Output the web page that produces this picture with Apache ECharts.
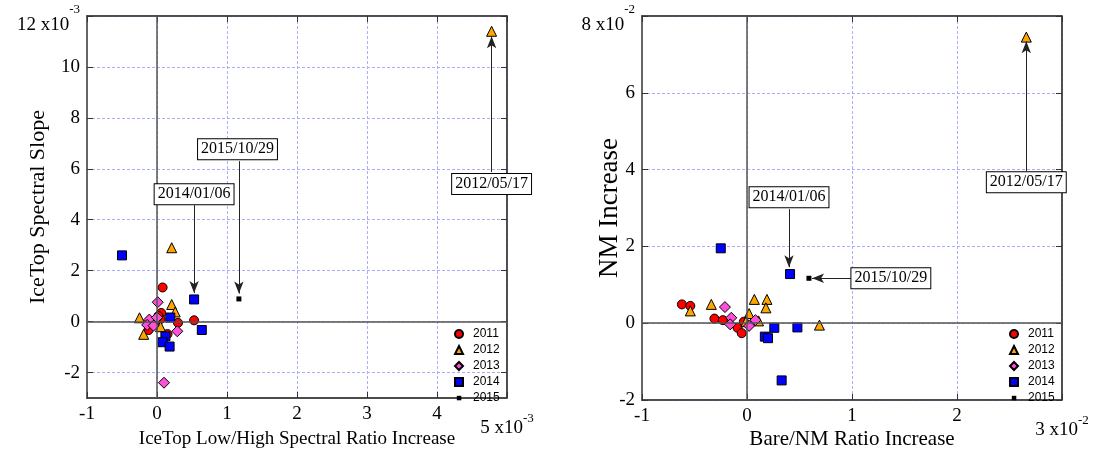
<!DOCTYPE html>
<html>
<head>
<meta charset="utf-8">
<script src="https://cdn.jsdelivr.net/npm/echarts@6/dist/echarts.min.js"></script>
<style>
html, body { margin: 0; padding: 0; background: #fff; }
#chart { width: 1095px; height: 455px; }
</style>
</head>
<body>
<div id="chart"></div>
<script>
// legend / series names
var years = ['2011', '2012', '2013', '2014', '2015'];

// left panel: IceTop low/high spectral ratio increase (x1e-3) vs spectral slope (x1e-3)
var itPts2011 = [[0.08, 1.34], [0.06, 0.34], [0.05, 0.10], [0.30, -0.05], [0.53, 0.05], [-0.12, -0.33], [0.15, -0.49], [0.02, 0.22], [-0.03, 0.0]];
var itPts2012 = [[0.21, 2.90], [0.21, 0.67], [0.26, 0.38], [-0.25, 0.15], [0.05, -0.20], [-0.19, -0.50], [4.78, 11.4]];
var itPts2013 = [[0.01, 0.76], [-0.11, 0.08], [0.0, 0.16], [-0.14, -0.13], [-0.05, -0.16], [0.29, -0.38], [0.10, -2.40]];
var itPts2014 = [[-0.50, 2.60], [0.53, 0.87], [0.19, 0.16], [0.64, -0.33], [0.12, -0.58], [0.08, -0.81], [0.18, -0.98]];
var itPts2015 = [[1.17, 0.89]];

// right panel: Bare/NM ratio increase (x1e-2) vs NM increase (x1e-2)
var nmPts2011 = [[-0.62, 0.49], [-0.54, 0.45], [-0.31, 0.12], [-0.23, 0.08], [-0.09, -0.12], [-0.05, -0.26], [-0.03, 0.04]];
var nmPts2012 = [[-0.54, 0.32], [-0.34, 0.49], [0.07, 0.62], [0.19, 0.62], [0.18, 0.40], [0.02, 0.25], [0.11, 0.06], [0.69, -0.05], [-0.01, 0.04], [2.66, 7.45]];
var nmPts2013 = [[-0.21, 0.42], [-0.15, 0.14], [-0.16, -0.03], [0.02, -0.07], [0.08, 0.08]];
var nmPts2014 = [[-0.25, 1.95], [0.41, 1.28], [0.26, -0.12], [0.48, -0.11], [0.17, -0.35], [0.20, -0.39], [0.33, -1.49]];
var nmPts2015 = [[0.59, 1.17]];

// tick values
var itXTicks = [-1, 0, 1, 2, 3, 4, 5];
var itYTicks = [-2, 0, 2, 4, 6, 8, 10, 12];
var nmXTicks = [-1, 0, 1, 2, 3];
var nmYTicks = [-2, 0, 2, 4, 6, 8];

// annotations: text, label centre, arrow start, arrow tip
var itNotes = [
    {text: '2014/01/06', at: [0.53, 5.0], from: [0.53, 4.57], to: [0.53, 1.12]},
    {text: '2015/10/29', at: [1.15, 6.77], from: [1.17, 6.30], to: [1.17, 1.10]},
    {text: '2012/05/17', at: [4.78, 5.40], from: [4.78, 5.87], to: [4.78, 11.2]}
];
var nmNotes = [
    {text: '2014/01/06', at: [0.40, 3.28], from: [0.40, 2.97], to: [0.40, 1.46]},
    {text: '2015/10/29', at: [1.37, 1.17], from: [0.99, 1.17], to: [0.62, 1.17]},
    {text: '2012/05/17', at: [2.66, 3.67], from: [2.66, 3.96], to: [2.66, 7.34]}
];

var serif = 'Liberation Serif';
var sans = 'Liberation Sans';
var colors = ['#ff0000', '#ffa500', '#ff4fd8', '#0000ff', '#000000'];
var symbols = ['circle', 'triangle', 'diamond', 'rect', 'rect'];
var sizes = [9, 10, 11, 9, 5];
var smallSquare = 'image://data:image/svg+xml;utf8,<svg xmlns="http://www.w3.org/2000/svg" width="8" height="8"><rect x="1.8" y="1.8" width="4.5" height="4.5" fill="black"/></svg>';

var chart = echarts.init(document.getElementById('chart'));

function mainX(idx, ticks, exp, name, nameSize, nameGap) {
    var last = ticks[ticks.length - 1];
    return {
        type: 'value', gridIndex: idx, min: ticks[0], max: last, interval: 1,
        name: name, nameLocation: 'middle', nameGap: nameGap, nameMoveOverlap: false,
        nameTextStyle: {fontFamily: serif, fontSize: nameSize, color: '#000'},
        axisLine: {show: true, onZero: false, lineStyle: {color: '#333', width: 1.5}},
        axisTick: {show: true, inside: true, length: 6, lineStyle: {color: '#333'}},
        axisLabel: {
            fontFamily: serif, fontSize: 19, color: '#000', margin: 7,
            formatter: function (v) {
                if (v === last) return '{lo|' + v + ' x10}{sup|' + exp + '}';
                return String(v);
            },
            rich: {
                lo: {fontFamily: serif, fontSize: 19, color: '#000', padding: [14, 0, 0, 0]},
                sup: {fontFamily: serif, fontSize: 13, color: '#000', padding: [0, 0, 6, 0]}
            }
        },
        splitLine: {show: true, lineStyle: {color: '#a8aeff', type: [3, 2], width: 1}}
    };
}

function mainY(idx, ticks, exp, name, nameSize, nameGap, min) {
    var last = ticks[ticks.length - 1];
    return {
        type: 'value', gridIndex: idx, min: min, max: last,
        name: name, nameLocation: 'middle', nameGap: nameGap, nameRotate: 90, nameMoveOverlap: false,
        nameTextStyle: {fontFamily: serif, fontSize: nameSize, color: '#000'},
        axisLine: {show: true, onZero: false, lineStyle: {color: '#666', width: 2}},
        axisTick: {show: true, inside: true, length: 6, customValues: ticks, lineStyle: {color: '#333'}},
        axisLabel: {
            fontFamily: serif, fontSize: 19, color: '#000', margin: 7, customValues: ticks,
            formatter: function (v) {
                if (v === last) return '{lo|' + v + ' x10}{sup|' + exp + '}';
                return String(v);
            },
            rich: {
                lo: {fontFamily: serif, fontSize: 19, color: '#000', padding: [18, 0, 0, 0]},
                sup: {fontFamily: serif, fontSize: 13, color: '#000', padding: [0, 0, 12, 0]}
            }
        },
        splitLine: {show: true, lineStyle: {color: '#a8aeff', type: [3, 2], width: 1}}
    };
}

function mirror(kind, idx, min, max, ticks) {
    return {
        type: 'value', gridIndex: idx, min: min, max: max,
        position: kind === 'x' ? 'top' : 'right',
        axisLine: {show: true, onZero: false, lineStyle: {color: '#333', width: 1.5}},
        axisTick: {show: true, inside: true, length: 6, customValues: ticks, lineStyle: {color: '#333'}},
        axisLabel: {show: false},
        splitLine: {show: false}
    };
}

function notesMarks(notes) {
    return {
        markLine: {
            silent: true, symbol: ['none', 'arrow'], symbolSize: [7, 12],
            label: {show: false},
            lineStyle: {color: '#222', width: 1, type: 'solid'},
            data: notes.map(function (n) {
                return [{coord: n.from}, {coord: n.to}];
            })
        },
        markPoint: {
            silent: true, symbol: 'rect', symbolSize: 1,
            itemStyle: {color: 'rgba(0,0,0,0)'},
            label: {
                show: true, position: 'inside', formatter: '{b}',
                fontFamily: serif, fontSize: 16, color: '#000',
                backgroundColor: '#fff', borderColor: '#000', borderWidth: 1, padding: [3, 3, 1, 3]
            },
            data: notes.map(function (n) {
                return {name: n.text, coord: n.at};
            })
        }
    };
}

function panelSeries(idx, pts, notes) {
    var list = [];
    list.push({
        type: 'scatter', name: 'helper' + idx, xAxisIndex: idx, yAxisIndex: idx,
        data: [], z: 1,
        markLine: {
            silent: true, symbol: 'none', label: {show: false},
            lineStyle: {color: '#555', width: 1.5, type: 'solid'},
            data: [{xAxis: 0}, {yAxis: 0}]
        }
    });
    var m = notesMarks(notes);
    list.push({
        type: 'scatter', name: 'notes' + idx, xAxisIndex: idx, yAxisIndex: idx,
        data: [], z: 4, markLine: m.markLine, markPoint: m.markPoint
    });
    years.forEach(function (y, i) {
        list.push({
            type: 'scatter', name: y, xAxisIndex: idx, yAxisIndex: idx,
            data: pts[i], symbol: symbols[i], symbolSize: sizes[i], z: 3,
            itemStyle: {color: colors[i], borderColor: '#000', borderWidth: i === 4 ? 0 : 1, opacity: 1}
        });
    });
    return list;
}

function legendAt(left) {
    return {
        orient: 'vertical', left: left, top: 328, padding: 0,
        itemWidth: 8, itemHeight: 8, itemGap: 4,
        selectedMode: false,
        textStyle: {fontFamily: sans, fontSize: 12, color: '#000', padding: [0, 0, 0, 5]},
        data: years.map(function (y, i) {
            return i === 4 ? {name: y, icon: smallSquare} : {name: y};
        })
    };
}

option = {
    animation: false,
    backgroundColor: '#fff',
    grid: [
        {left: 87, width: 420, top: 16, height: 382, show: true, borderColor: '#333', borderWidth: 1, outerBoundsMode: 'none'},
        {left: 642, width: 420, top: 16, height: 384, show: true, borderColor: '#333', borderWidth: 1, outerBoundsMode: 'none'}
    ],
    legend: [legendAt(454), legendAt(1009)],
    xAxis: [
        mainX(0, itXTicks, '-3', 'IceTop Low/High Spectral Ratio Increase', 19, 32),
        mainX(1, nmXTicks, '-2', 'Bare/NM Ratio Increase', 21, 29),
        mirror('x', 0, -1, 5, itXTicks),
        mirror('x', 1, -1, 3, nmXTicks)
    ],
    yAxis: [
        mainY(0, itYTicks, '-3', 'IceTop Spectral Slope', 22, 38, -3),
        mainY(1, nmYTicks, '-2', 'NM Increase', 27, 19, -2),
        mirror('y', 0, -3, 12, itYTicks),
        mirror('y', 1, -2, 8, nmYTicks)
    ],
    series: panelSeries(0, [itPts2011, itPts2012, itPts2013, itPts2014, itPts2015], itNotes)
        .concat(panelSeries(1, [nmPts2011, nmPts2012, nmPts2013, nmPts2014, nmPts2015], nmNotes))
};
chart.setOption(option);
</script>
</body>
</html>
